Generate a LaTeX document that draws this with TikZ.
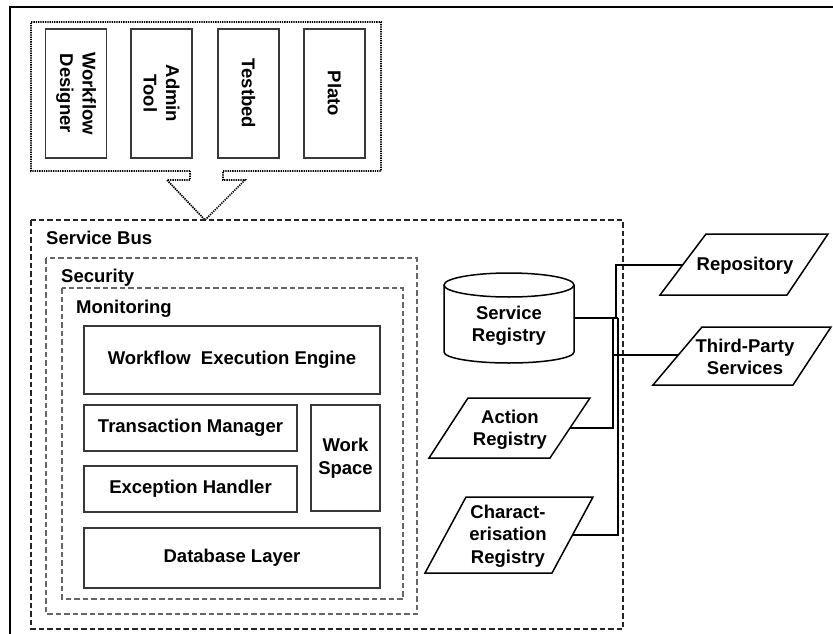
\documentclass[tikz,border=0pt]{standalone}
\usepackage{fontspec}
\setmainfont{Liberation Sans}
\begin{document}
\begin{tikzpicture}[x=1pt,y=-1pt,
  font=\fontsize{18.5}{22.5}\selectfont\bfseries,
  box/.style={draw=black!78, line width=1.2pt, inner sep=0pt, align=center},
  tool/.style={box, rotate=-90, minimum width=129pt, minimum height=61pt},
  lbl/.style={anchor=base west, inner sep=0pt},
  txt/.style={inner sep=0pt, align=center},
  buslayer/.style={dash pattern=on 5.5pt off 3pt, line width=1.1pt, draw=black!85},
  innerlayer/.style={dash pattern=on 5.5pt off 3pt, line width=1.1pt, draw=black!60},
  callout/.style={dash pattern=on 1.3pt off 1pt, line width=1.7pt},
  para/.style={draw, line width=1.5pt, line join=miter},
  link/.style={line width=1.4pt},
]
\useasboundingbox (0,0) rectangle (833,634);

% outer frame (left and top edges)
\draw[line width=1.5pt] (10,634) -- (10,7) -- (833,7);

% client tools, grouped in a dotted callout pointing at the bus
\draw[callout] (190,171) -- (31,171) -- (31,22) -- (381,22) -- (381,171)
  -- (223,171) -- (223,180) -- (245,180) -- (205,220) -- (167,180)
  -- (190,180) -- cycle;
\node[tool] (wd) at (76,93.5)    {Workflow\\Designer};
\node[tool] (at) at (161.5,93.5) {Admin\\Tool};
\node[tool] (tb) at (248.5,93.5) {Testbed};
\node[tool] (pl) at (334.5,93.5) {Plato};

% nested layers
\draw[buslayer]   (31,220) rectangle (623,629);
\node[lbl] (busl) at (46,244) {Service Bus};
\draw[innerlayer] (46,258) rectangle (417,614);
\node[lbl] (secl) at (61,282) {Security};
\draw[innerlayer] (62,288) rectangle (403,599);
\node[lbl] (monl) at (76,313) {Monitoring};

% core components
\node[box, minimum width=296pt, minimum height=68pt] (wee) at (232,360)   {Workflow\ \ Execution Engine};
\node[box, minimum width=213pt, minimum height=46pt] (tm)  at (190.5,428) {Transaction Manager};
\node[box, minimum width=213pt, minimum height=46pt] (eh)  at (190.5,489) {Exception Handler};
\node[box, minimum width=69pt,  minimum height=106pt] (ws) at (345.5,458) {Work\\Space};
\node[box, minimum width=296pt, minimum height=60pt] (db)  at (232,558)   {Database Layer};

% service registry (database cylinder)
\draw[line width=1.5pt] (444,285) -- (444,352)
  arc[start angle=180, end angle=0, x radius=65, y radius=11] -- (574,285);
\draw[line width=1.5pt] (509,285) ellipse[x radius=65, y radius=12];
\node[txt] (sr) at (509,326) {Service\\Registry};
\coordinate (sr-e) at (574,318);

% registries and external stores
\node[txt] (repo) at (745,266) {Repository};
\draw[para] (706,234) -- (828,234) -- (787,295) -- (660,295) -- cycle;
\coordinate (repo-w) at (683,265);

\node[txt] (tp) at (745,357) {Third-Party\\Services};
\draw[para] (702,327) -- (831,327) -- (793,385) -- (653,385) -- cycle;
\coordinate (tp-w) at (678,355);

\node[txt] (ar) at (510,430) {Action\\Registry};
\draw[para] (468,398) -- (590,398) -- (550,458) -- (429,458) -- cycle;
\coordinate (ar-e) at (570,428);

\node[txt] (cr) at (508,536) {Charact-\\erisation\\Registry};
\draw[para] (466,497) -- (593,497) -- (552,573) -- (425,573) -- cycle;
\coordinate (cr-e) at (572.5,535);

% bus wiring
\coordinate (j1) at (616,318);
\coordinate (j2) at (618,318);
\coordinate (j3) at (613,318);
\draw[link] (repo-w) -| (j1);
\draw[line width=2.4pt] (sr-e) -- (j2);
\draw[link] (tp-w) -| (j3);
\draw[link] (ar-e) -| (j3);
\draw[link] (cr-e) -| (j2);
\end{tikzpicture}
\end{document}
